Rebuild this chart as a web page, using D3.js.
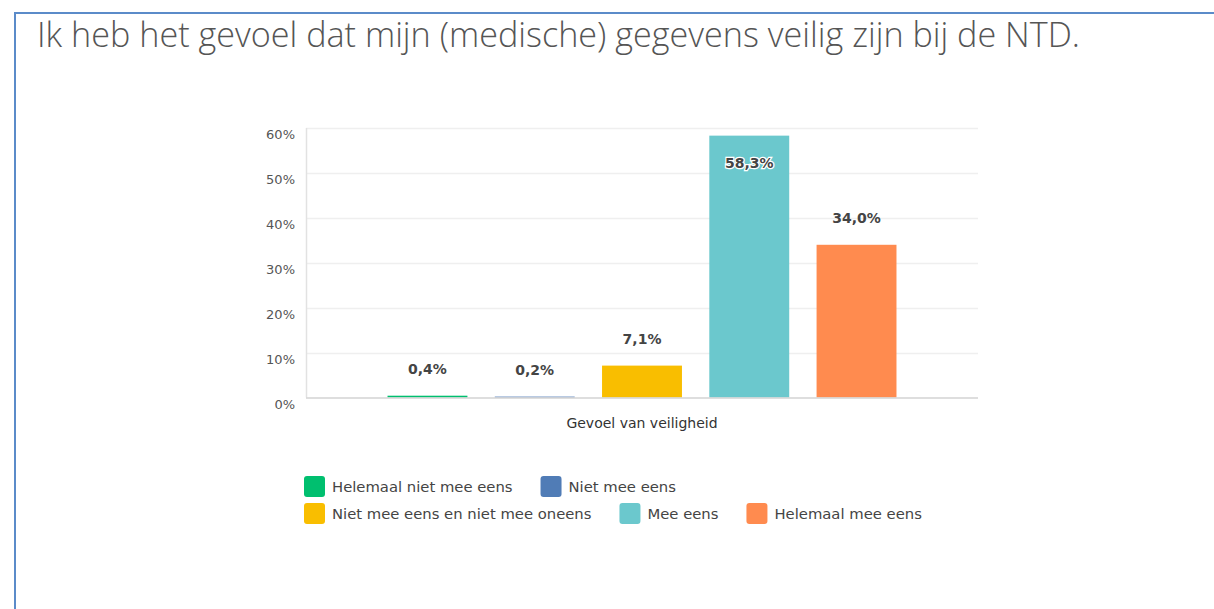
<!DOCTYPE html>
<html>
<head>
<meta charset="utf-8">
<script src="https://cdn.jsdelivr.net/npm/d3@7"></script>
<style>
  body { margin: 0; background: #fff; }
  svg { display: block; }
  text { font-family: "DejaVu Sans", "Open Sans", sans-serif; }
</style>
</head>
<body>
<div class="canvas"></div>
<script>
// data
const title = 'Ik heb het gevoel dat mijn (medische) gegevens veilig zijn bij de NTD.';
const groupLabel = 'Gevoel van veiligheid';
const categories = ['Helemaal niet mee eens', 'Niet mee eens', 'Niet mee eens en niet mee oneens', 'Mee eens', 'Helemaal mee eens'];
const values = [0.4, 0.2, 7.1, 58.3, 34.0];
const colors = ['#00bf6f', '#507cb6', '#f9be00', '#6bc8cd', '#ff8b4f'];
const yTicks = [0, 10, 20, 30, 40, 50, 60];
const legendRows = [[0, 1], [2, 3, 4]];

const W = 1214, H = 609;
const svg = d3.select('.canvas')
    .append('svg')
        .attr('width', W)
        .attr('height', H);

// frame
svg.append('path')
    .attr('d', `M15,${H} L15,13 L${W},13`)
    .attr('fill', 'none')
    .attr('stroke', '#5b8bc9')
    .attr('stroke-width', 2);

svg.append('text')
    .attr('x', 37)
    .attr('y', 47)
    .style('font-family', '"Open Sans", sans-serif')
    .attr('font-weight', 300)
    .attr('font-size', 35)
    .attr('fill', '#555')
    .attr('textLength', 1043)
    .attr('lengthAdjust', 'spacingAndGlyphs')
    .text(title);

// plot area
const plot = {left: 306, right: 978, top: 128, bottom: 397.5};

const y = d3.scaleLinear()
    .domain([0, 60])
    .range([plot.bottom, plot.top]);

const x = d3.scaleBand()
    .domain(categories)
    .range([plot.left, plot.right])
    .paddingInner(0.255)
    .paddingOuter(0.76);

const g = svg.append('g');

// gridlines
g.selectAll('line.grid')
    .data(yTicks.filter(d => d > 0))
    .enter().append('line')
        .attr('class', 'grid')
        .attr('x1', plot.left)
        .attr('x2', plot.right)
        .attr('y1', d => Math.round(y(d)) + 0.5)
        .attr('y2', d => Math.round(y(d)) + 0.5)
        .attr('stroke', '#efefef')
        .attr('stroke-width', 1.5);

// y axis line
g.append('line')
    .attr('x1', plot.left + 0.5).attr('x2', plot.left + 0.5)
    .attr('y1', plot.top).attr('y2', plot.bottom)
    .attr('stroke', '#e2e2e2')
    .attr('stroke-width', 1.5);

// y tick labels
g.selectAll('text.ytick')
    .data(yTicks)
    .enter().append('text')
        .attr('class', 'ytick')
        .attr('x', 295)
        .attr('y', d => y(d) + 11)
        .attr('text-anchor', 'end')
        .attr('font-size', 13)
        .attr('fill', '#555')
        .text(d => d + '%');

// bars
g.selectAll('rect.bar')
    .data(values)
    .enter().append('rect')
        .attr('class', 'bar')
        .attr('x', (d, i) => x(categories[i]))
        .attr('width', x.bandwidth())
        .attr('y', d => y(d))
        .attr('height', d => plot.bottom - y(d))
        .attr('fill', (d, i) => colors[i]);

// baseline
g.append('line')
    .attr('x1', plot.left).attr('x2', plot.right)
    .attr('y1', plot.bottom + 0.5).attr('y2', plot.bottom + 0.5)
    .attr('stroke', '#d3d3d3')
    .attr('stroke-width', 1.5);

// value labels
const fmt = d => d.toFixed(1).replace('.', ',') + '%';
g.selectAll('text.val')
    .data(values)
    .enter().append('text')
        .attr('class', 'val')
        .attr('x', (d, i) => x(categories[i]) + x.bandwidth() / 2)
        .attr('y', d => {
            const top = y(d);
            return top - 27 < plot.top ? top + 32 : top - 22;
        })
        .attr('text-anchor', 'middle')
        .attr('font-size', 14)
        .attr('font-weight', 700)
        .attr('fill', '#444')
        .attr('stroke', d => y(d) - 27 < plot.top ? '#fff' : 'none')
        .attr('stroke-width', 2.5)
        .attr('paint-order', 'stroke')
        .text(fmt);

// x label
g.append('text')
    .attr('x', (plot.left + plot.right) / 2)
    .attr('y', 428)
    .attr('text-anchor', 'middle')
    .attr('font-size', 14)
    .attr('fill', '#333')
    .text(groupLabel);

// legend
const legend = svg.append('g');
legendRows.forEach((row, r) => {
    let lx = 304;
    const ly = 476 + r * 27;
    row.forEach(i => {
        legend.append('rect')
            .attr('x', lx)
            .attr('y', ly)
            .attr('width', 21)
            .attr('height', 21)
            .attr('rx', 3)
            .attr('fill', colors[i]);
        const t = legend.append('text')
            .attr('x', lx + 28)
            .attr('y', ly + 16)
            .attr('font-size', 14.8)
            .attr('fill', '#444')
            .text(categories[i]);
        lx += 28 + t.node().getComputedTextLength() + 28;
    });
});
</script>
</body>
</html>
